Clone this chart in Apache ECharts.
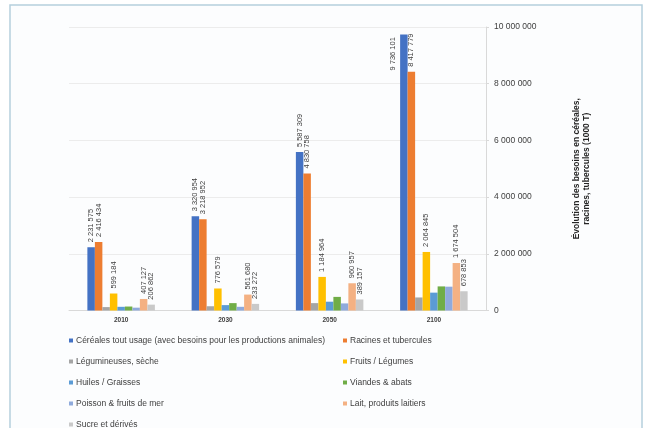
<!DOCTYPE html>
<html>
<head>
<meta charset="utf-8">
<script src="https://cdn.jsdelivr.net/npm/echarts@6/dist/echarts.min.js"></script>
<style>
  html, body { margin: 0; padding: 0; background: #ffffff; }
  #chart { width: 648px; height: 428px; }
</style>
</head>
<body>
<div id="chart"></div>
<script>
// Projection years
const years = ['2010', '2030', '2050', '2100'];

// Needs per food group (1000 T)
const cereales     = [2231575, 3320954, 5587309, 9736101];
const racines      = [2416434, 3218952, 4830758, 8417779];
const legumineuses = [120000, 150000, 260000, 460000];
const fruits       = [599184, 776579, 1184964, 2064845];
const huiles       = [130000, 190000, 310000, 630000];
const viandes      = [140000, 260000, 480000, 850000];
const poisson      = [100000, 130000, 250000, 840000];
const lait         = [407127, 561680, 960957, 1674504];
const sucre        = [206862, 233272, 389157, 678853];

// Right axis ticks
const yTicks = [0, 2000000, 4000000, 6000000, 8000000, 10000000];

const seriesNames = [
  'Céréales tout usage (avec besoins pour les productions animales)',
  'Racines et tubercules',
  'Légumineuses, sèche',
  'Fruits / Légumes',
  'Huiles / Graisses',
  'Viandes & abats',
  'Poisson & fruits de mer',
  'Lait, produits laitiers',
  'Sucre et dérivés'
];
const seriesData = [cereales, racines, legumineuses, fruits, huiles, viandes, poisson, lait, sucre];
const seriesColors = ['#4472c4', '#ed7d31', '#a5a5a5', '#ffc000', '#5b9bd5', '#70ad47', '#8faadc', '#f4b183', '#c9c9c9'];
const labelled = [true, true, false, true, false, false, false, true, true];

function spaced(v) {
  return String(v).replace(/\B(?=(\d{3})+(?!\d))/g, ' ');
}

const FONT = '"Liberation Sans", Arial, sans-serif';
const AXIS_MAX = 10000000;

const chart = echarts.init(document.getElementById('chart'), null, { renderer: 'canvas' });

// Values too close to the top of the axis get their label beside the bar
function toItems(values) {
  return values.map(v => {
    if (v > AXIS_MAX * 0.9) {
      return { value: v, label: { position: [-7, 36] } };
    }
    return v;
  });
}

const series = seriesNames.map((name, i) => ({
  name: name,
  type: 'bar',
  data: labelled[i] ? toItems(seriesData[i]) : seriesData[i],
  barWidth: 7.5,
  barGap: '0%',
  itemStyle: { color: seriesColors[i] },
  label: {
    show: labelled[i],
    position: 'top',
    distance: 5,
    rotate: 90,
    align: 'left',
    verticalAlign: 'middle',
    fontFamily: FONT,
    fontSize: 7.5,
    color: '#404040',
    formatter: p => spaced(p.value)
  }
}));

const legendCommon = {
  orient: 'vertical',
  icon: 'rect',
  itemWidth: 4,
  itemHeight: 4,
  itemGap: 12,
  padding: 0,
  height: 120,
  textStyle: { fontFamily: FONT, fontSize: 8.5, color: '#404040', padding: [0, 0, 0, -2] },
  top: 336
};

chart.setOption({
  animation: false,
  backgroundColor: '#ffffff',
  graphic: [{
    type: 'rect',
    shape: { x: 10, y: 5, width: 632, height: 440 },
    style: { fill: '#fcfdfe', stroke: '#b5d0dd', lineWidth: 1.5 },
    z: -10
  }],
  grid: { left: 69, right: 162, top: 27, bottom: 117.5 },
  legend: [
    Object.assign({}, legendCommon, {
      left: 69,
      data: [seriesNames[0], seriesNames[2], seriesNames[4], seriesNames[6], seriesNames[8]]
    }),
    Object.assign({}, legendCommon, {
      left: 343,
      data: [seriesNames[1], seriesNames[3], seriesNames[5], seriesNames[7]]
    })
  ],
  xAxis: {
    type: 'category',
    data: years,
    axisLine: { show: true, lineStyle: { color: '#d9d9d9' } },
    axisTick: { show: false },
    axisLabel: { fontFamily: FONT, fontSize: 6.5, fontWeight: 'bold', color: '#404040', margin: 6 }
  },
  yAxis: {
    type: 'value',
    position: 'right',
    min: 0,
    max: AXIS_MAX,
    interval: 2000000,
    axisLine: { show: true, lineStyle: { color: '#d9d9d9' } },
    axisTick: { show: true, inside: false, length: 3, lineStyle: { color: '#d9d9d9' } },
    splitLine: { show: true, lineStyle: { color: '#ececec', width: 1 } },
    axisLabel: {
      fontFamily: FONT,
      fontSize: 8.5,
      color: '#404040',
      margin: 8,
      formatter: v => (yTicks.indexOf(v) >= 0 ? spaced(v) : '')
    },
    name: 'Évolution des besoins en céréales,\nracines, tubercules (1000 T)',
    nameLocation: 'middle',
    nameRotate: 90,
    nameGap: 86,
    nameTextStyle: {
      fontFamily: FONT,
      fontSize: 8.5,
      fontWeight: 'bold',
      color: '#262626',
      lineHeight: 10
    }
  },
  series: series
});
</script>
</body>
</html>
